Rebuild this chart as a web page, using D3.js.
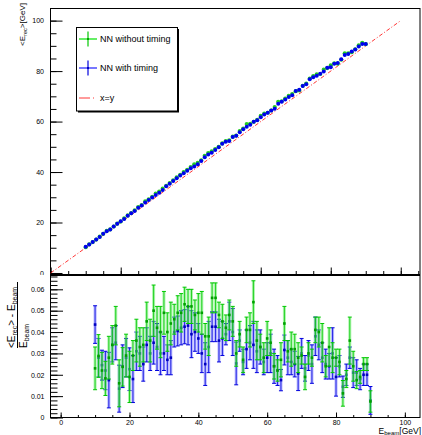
<html>
  <head>
    <title>NN energy response</title>
    <script src="https://cdn.jsdelivr.net/npm/d3@7"></script>
    <style>
      body { margin: 0; background: #fff; }
      text { font-family: "Liberation Sans", Arial, sans-serif; }
    </style>
  </head>
  <body>
    <svg id="chart" width="422" height="435"></svg>
    <script>

      // beam energies (GeV)
      var energies = [10, 11, 12, 13, 14, 15, 16, 17, 18, 19,
                      20, 21, 22, 23, 24, 25, 26, 27, 28, 29,
                      30, 31, 32, 33, 34, 35, 36, 37, 38, 39,
                      40, 41, 42, 43, 44, 45, 46, 47, 48, 49,
                      50, 51, 52, 53, 54, 55, 56, 57, 58, 59,
                      60, 61, 62, 63, 64, 65, 66, 67, 68, 69,
                      70, 71, 72, 73, 74, 75, 76, 77, 78, 79,
                      80, 81, 82, 83, 84, 85, 86, 87, 88, 89, 90]

      // (<E_rec> - E_beam) / E_beam, NN without timing
      var ratioNoTiming = [0.0230, 0.0288, 0.0220, 0.0183, 0.0280, 0.0340, 0.0430, 0.0160, 0.0237, 0.0290,
                           0.0190, 0.0290, 0.0360, 0.0330, 0.0340, 0.0450, 0.0360, 0.0500, 0.0420, 0.0400,
                           0.0490, 0.0400, 0.0440, 0.0460, 0.0490, 0.0490, 0.0530, 0.0520, 0.0520, 0.0480,
                           0.0490, 0.0490, 0.0380, 0.0380, 0.0560, 0.0560, 0.0480, 0.0450, 0.0420, 0.0480,
                           0.0450, 0.0300, 0.0390, 0.0270, 0.0410, 0.0410, 0.0540, 0.0360, 0.0330, 0.0280,
                           0.0370, 0.0350, 0.0240, 0.0220, 0.0270, 0.0440, 0.0310, 0.0320, 0.0320, 0.0280,
                           0.0290, 0.0190, 0.0300, 0.0280, 0.0410, 0.0400, 0.0350, 0.0240, 0.0330, 0.0280,
                           0.0280, 0.0260, 0.0113, 0.0180, 0.0360, 0.0240, 0.0175, 0.0190, 0.0250, 0.0250, 0.0075]
      var errNoTiming = [0.0100, 0.0100, 0.0085, 0.0080, 0.0100, 0.0090, 0.0090, 0.0110, 0.0090, 0.0100,
                         0.0120, 0.0070, 0.0100, 0.0090, 0.0080, 0.0090, 0.0100, 0.0120, 0.0100, 0.0120,
                         0.0100, 0.0090, 0.0100, 0.0070, 0.0080, 0.0090, 0.0080, 0.0080, 0.0080, 0.0070,
                         0.0090, 0.0100, 0.0060, 0.0090, 0.0070, 0.0070, 0.0060, 0.0080, 0.0060, 0.0070,
                         0.0070, 0.0060, 0.0060, 0.0060, 0.0060, 0.0080, 0.0100, 0.0090, 0.0060, 0.0070,
                         0.0080, 0.0060, 0.0060, 0.0050, 0.0080, 0.0080, 0.0050, 0.0080, 0.0070, 0.0070,
                         0.0040, 0.0060, 0.0050, 0.0040, 0.0060, 0.0070, 0.0090, 0.0050, 0.0090, 0.0070,
                         0.0040, 0.0060, 0.0060, 0.0040, 0.0110, 0.0070, 0.0040, 0.0030, 0.0030, 0.0030, 0.0050]

      // (<E_rec> - E_beam) / E_beam, NN with timing
      var ratioTiming = [0.0435, 0.0280, 0.0245, 0.0220, 0.0175, 0.0340, 0.0350, 0.0135, 0.0240, 0.0280,
                         0.0226, 0.0180, 0.0310, 0.0300, 0.0250, 0.0340, 0.0300, 0.0350, 0.0330, 0.0300,
                         0.0300, 0.0270, 0.0280, 0.0400, 0.0405, 0.0420, 0.0425, 0.0430, 0.0390, 0.0400,
                         0.0370, 0.0300, 0.0250, 0.0330, 0.0425, 0.0425, 0.0360, 0.0370, 0.0390, 0.0450,
                         0.0400, 0.0253, 0.0360, 0.0260, 0.0320, 0.0350, 0.0340, 0.0310, 0.0330, 0.0260,
                         0.0280, 0.0300, 0.0240, 0.0220, 0.0175, 0.0316, 0.0280, 0.0260, 0.0250, 0.0206,
                         0.0300, 0.0230, 0.0290, 0.0250, 0.0380, 0.0340, 0.0280, 0.0250, 0.0240, 0.0300,
                         0.0190, 0.0240, 0.0144, 0.0200, 0.0280, 0.0210, 0.0210, 0.0180, 0.0200, 0.0200, 0.0080]
      var errTiming = [0.0088, 0.0090, 0.0070, 0.0090, 0.0130, 0.0080, 0.0080, 0.0110, 0.0100, 0.0090,
                       0.0100, 0.0110, 0.0090, 0.0080, 0.0080, 0.0080, 0.0080, 0.0100, 0.0110, 0.0100,
                       0.0080, 0.0070, 0.0080, 0.0070, 0.0070, 0.0080, 0.0080, 0.0090, 0.0110, 0.0090,
                       0.0070, 0.0090, 0.0100, 0.0120, 0.0070, 0.0070, 0.0100, 0.0080, 0.0050, 0.0090,
                       0.0110, 0.0100, 0.0050, 0.0060, 0.0090, 0.0080, 0.0110, 0.0100, 0.0080, 0.0060,
                       0.0070, 0.0090, 0.0080, 0.0070, 0.0050, 0.0070, 0.0080, 0.0060, 0.0060, 0.0080,
                       0.0070, 0.0060, 0.0070, 0.0090, 0.0090, 0.0070, 0.0070, 0.0070, 0.0060, 0.0120,
                       0.0090, 0.0050, 0.0050, 0.0050, 0.0050, 0.0070, 0.0060, 0.0050, 0.0050, 0.0050, 0.0065]

      var topYTicks = [0, 20, 40, 60, 80, 100]
      var xTicks = [0, 20, 40, 60, 80, 100]
      var bottomYTicks = [0, 0.01, 0.02, 0.03, 0.04, 0.05, 0.06]
      var legendLabels = ["NN without timing", "NN with timing", "x=y"]

      var svg = d3.select('#chart')

      var green = {dark: '#00c800', mark: '#00a000', light: '#66ee66', dot: '#22cc22'}
      var blue = {dark: '#0000dd', mark: '#0000c0', light: '#7878ff', dot: '#0000ee'}

      // ---------- top pad ----------
      var xTop = d3.scaleLinear().domain([0, 105.5]).range([50.7, 420])
      var yTop = d3.scaleLinear().domain([-0.6, 105]).range([274.5, 8])

      var topPad = svg.append('g')

      topPad.append('g').attr('transform', 'translate(50.5,0)')
        .call(d3.axisLeft(yTop).tickValues(d3.range(0, 105, 5)).tickSize(-6).tickFormat(''))
      topPad.append('g').attr('transform', 'translate(50.5,0)')
        .call(d3.axisLeft(yTop).tickValues(topYTicks).tickSize(-12).tickPadding(6.5))
      topPad.append('g').attr('transform', 'translate(0,274.5)')
        .call(d3.axisBottom(xTop).tickValues(d3.range(0, 106, 5)).tickSize(-3.5).tickFormat(''))
      topPad.append('g').attr('transform', 'translate(0,274.5)')
        .call(d3.axisBottom(xTop).tickValues(xTicks).tickSize(-7).tickFormat(''))
      topPad.selectAll('.domain').remove()
      topPad.selectAll('.tick line').attr('stroke', '#000').attr('stroke-width', 1)
      topPad.selectAll('.tick text').attr('font-size', 7).attr('fill', '#000')

      topPad.append('rect')
        .attr('x', 50.5).attr('y', 8.5)
        .attr('width', 369.5).attr('height', 266)
        .attr('fill', 'none').attr('stroke', '#000')

      // x = y reference
      topPad.append('line')
        .attr('x1', xTop(0)).attr('y1', yTop(0))
        .attr('x2', xTop(100)).attr('y2', yTop(100))
        .attr('stroke', '#ff2020').attr('stroke-width', 0.9)
        .attr('stroke-dasharray', '4,2,1,2')

      // mean reconstructed energy points
      topPad.selectAll('circle.nt').data(energies).enter().append('circle')
        .attr('class', 'nt')
        .attr('cx', function(d){ return xTop(d) })
        .attr('cy', function(d, i){ return yTop(d * (1 + ratioNoTiming[i])) })
        .attr('r', 2.1).attr('fill', green.dot)
      topPad.selectAll('circle.wt').data(energies).enter().append('circle')
        .attr('class', 'wt')
        .attr('cx', function(d){ return xTop(d) })
        .attr('cy', function(d, i){ return yTop(d * (1 + ratioTiming[i])) })
        .attr('r', 2).attr('fill', blue.dot)

      // y title
      var yt = topPad.append('text')
        .attr('transform', 'translate(24.8,3) rotate(-90)')
        .attr('text-anchor', 'end').attr('font-size', 8)
      yt.append('tspan').text('<E')
      yt.append('tspan').attr('font-size', 5.6).attr('dy', 2).text('rec')
      yt.append('tspan').attr('dy', -2).text('>[GeV]')

      // legend
      var leg = topPad.append('g')
      leg.append('rect').attr('x', 78).attr('y', 29).attr('width', 101).attr('height', 83.5).attr('fill', '#000')
      leg.append('rect').attr('x', 76.5).attr('y', 27.5).attr('width', 101).attr('height', 83.5)
        .attr('fill', '#fff').attr('stroke', '#000')

      var legRows = [39, 68, 98]
      var legStyles = [green, blue]
      legStyles.forEach(function(s, i){
        var cy = legRows[i]
        leg.append('line').attr('x1', 79).attr('x2', 97).attr('y1', cy).attr('y2', cy)
          .attr('stroke', s.light).attr('stroke-width', 2)
        leg.append('line').attr('x1', 88).attr('x2', 88).attr('y1', cy - 7.5).attr('y2', cy + 7.5)
          .attr('stroke', s.dark).attr('stroke-width', 1.2)
        leg.append('rect').attr('x', 87).attr('y', cy - 1).attr('width', 2).attr('height', 2).attr('fill', s.mark)
      })
      leg.append('line').attr('x1', 79).attr('x2', 97).attr('y1', legRows[2]).attr('y2', legRows[2])
        .attr('stroke', '#ff2020').attr('stroke-width', 0.9).attr('stroke-dasharray', '11,3,1,3')
      leg.selectAll('text.lab').data(legendLabels).enter().append('text')
        .attr('class', 'lab')
        .attr('x', 100).attr('y', function(d, i){ return legRows[i] + 3 })
        .attr('font-size', 9).text(String)

      // ---------- bottom pad ----------
      svg.append('rect').attr('x', 0).attr('y', 275).attr('width', 422).attr('height', 160).attr('fill', '#fff')

      var xBot = d3.scaleLinear().domain([-3.1, 104.4]).range([50, 420])
      var yBot = d3.scaleLinear().domain([0, 0.0667]).range([417.5, 275])

      var botPad = svg.append('g')

      botPad.append('g').attr('transform', 'translate(50.5,0)')
        .call(d3.axisLeft(yBot).tickValues(d3.range(0, 0.0665, 0.002)).tickSize(-7).tickFormat(''))
      botPad.append('g').attr('transform', 'translate(50.5,0)')
        .call(d3.axisLeft(yBot).tickValues(bottomYTicks).tickSize(-12.5).tickPadding(6)
          .tickFormat(function(d){ return d === 0 ? '0' : d3.format('.2f')(d) }))
      botPad.append('g').attr('transform', 'translate(0,417.5)')
        .call(d3.axisBottom(xBot).tickValues(d3.range(0, 104, 5)).tickSize(-2.5).tickFormat(''))
      botPad.append('g').attr('transform', 'translate(0,417.5)')
        .call(d3.axisBottom(xBot).tickValues(xTicks).tickSize(-5).tickPadding(3))
      botPad.selectAll('.domain').remove()
      botPad.selectAll('.tick line').attr('stroke', '#000').attr('stroke-width', 1)
      botPad.selectAll('.tick text').attr('font-size', 7).attr('fill', '#000')

      botPad.append('rect')
        .attr('x', 50.5).attr('y', 275.5)
        .attr('width', 369.5).attr('height', 142)
        .attr('fill', 'none').attr('stroke', '#000')

      function drawSeries(cls, vals, errs, s) {
        var g = botPad.append('g').attr('class', cls)
        var pts = energies.map(function(e, i){ return {e: e, v: vals[i], err: errs[i]} })
        g.selectAll('line.band').data(pts).enter().append('line')
          .attr('class', 'band')
          .attr('x1', function(d){ return xBot(d.e) }).attr('x2', function(d){ return xBot(d.e) })
          .attr('y1', function(d){ return yBot(d.v + d.err) }).attr('y2', function(d){ return yBot(d.v - d.err) })
          .attr('stroke', s.light).attr('stroke-width', 3).attr('opacity', 0.55)
        g.selectAll('line.bar').data(pts).enter().append('line')
          .attr('class', 'bar')
          .attr('x1', function(d){ return xBot(d.e) }).attr('x2', function(d){ return xBot(d.e) })
          .attr('y1', function(d){ return yBot(d.v + d.err) }).attr('y2', function(d){ return yBot(d.v - d.err) })
          .attr('stroke', s.dark).attr('stroke-width', 0.8)
        ;[1, -1].forEach(function(sign){
          g.selectAll('line.cap' + sign).data(pts).enter().append('line')
            .attr('x1', function(d){ return xBot(d.e) - 2 }).attr('x2', function(d){ return xBot(d.e) + 2 })
            .attr('y1', function(d){ return yBot(d.v + sign * d.err) }).attr('y2', function(d){ return yBot(d.v + sign * d.err) })
            .attr('stroke', s.dark).attr('stroke-width', 1)
        })
        g.selectAll('rect.m').data(pts).enter().append('rect')
          .attr('class', 'm')
          .attr('x', function(d){ return xBot(d.e) - 1.3 }).attr('y', function(d){ return yBot(d.v) - 1.3 })
          .attr('width', 2.6).attr('height', 2.6).attr('fill', s.mark)
      }
      drawSeries('wt', ratioTiming, errTiming, blue)
      drawSeries('nt', ratioNoTiming, errNoTiming, green)

      // y title as fraction
      var ft = botPad.append('g').attr('transform', 'translate(0,348) rotate(-90)')
      var num = ft.append('text').attr('x', 0).attr('y', 15).attr('font-size', 10)
      num.append('tspan').text('<E')
      num.append('tspan').attr('font-size', 7).attr('dy', 2).text('rec')
      num.append('tspan').attr('dy', -2).text('> - E')
      num.append('tspan').attr('font-size', 7).attr('dy', 2).text('beam')
      ft.append('line').attr('x1', 0).attr('x2', 66).attr('y1', 17.5).attr('y2', 17.5)
        .attr('stroke', '#000').attr('stroke-width', 1)
      var den = ft.append('text').attr('x', 0).attr('y', 26.5).attr('font-size', 10)
      den.append('tspan').text('E')
      den.append('tspan').attr('font-size', 7).attr('dy', 2).text('beam')

      // x title, right-aligned at the axis end
      var xt = botPad.append('text')
        .attr('x', 421).attr('y', 433.5)
        .attr('text-anchor', 'end').attr('font-size', 8.5)
      xt.append('tspan').text('E')
      xt.append('tspan').attr('font-size', 6).attr('dy', 1).text('beam')
      xt.append('tspan').attr('dy', -1).text('[GeV]')

    </script>
  </body>
</html>
